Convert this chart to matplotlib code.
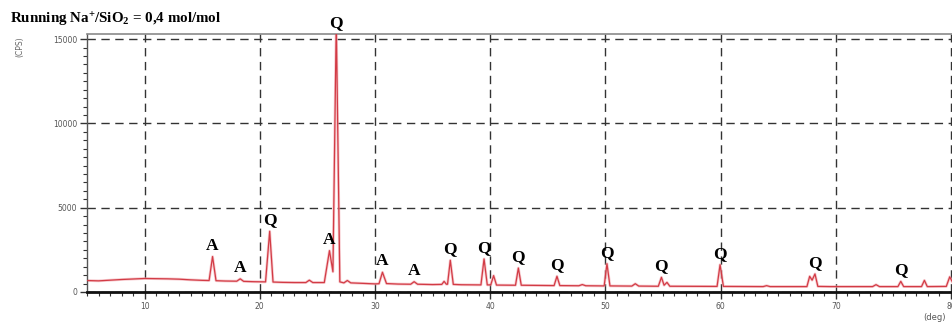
import matplotlib
matplotlib.use("Agg")
import matplotlib.pyplot as plt
from matplotlib.ticker import MultipleLocator

plt.rcParams["mathtext.fontset"] = "custom"
plt.rcParams["mathtext.rm"] = "Liberation Serif:bold"
plt.rcParams["mathtext.it"] = "Liberation Serif:bold"
plt.rcParams["mathtext.bf"] = "Liberation Serif:bold"

# Diffractogram vertices (2theta in deg, intensity in CPS)
two_theta = [5.0, 6.0, 7.0, 8.0, 9.0, 10.0, 11.0, 12.0, 13.0, 14.0, 15.0,
             15.6, 15.9, 16.2, 17.0, 18.0, 18.3, 18.6, 19.5, 20.5, 20.86, 21.15,
             22.0, 23.0, 24.0, 24.3, 24.6, 25.6, 26.05, 26.35, 26.64, 26.95,
             27.3, 27.6, 27.9, 29.0, 30.0, 30.35, 30.65, 31.0, 32.0, 33.1, 33.4,
             33.7, 35.0, 35.8, 36.0, 36.2, 36.3, 36.54, 36.8, 37.5, 39.2, 39.47,
             39.75, 40.05, 40.3, 40.55, 42.2, 42.45, 42.7, 45.55, 45.8, 46.05,
             47.7, 48.0, 48.3, 49.9, 50.14, 50.4, 52.3, 52.6, 52.9, 54.6, 54.87,
             55.1, 55.35, 55.6, 59.7, 59.96, 60.25, 63.7, 64.0, 64.3, 67.5, 67.74,
             67.95, 68.2, 68.45, 69.5, 73.2, 73.5, 73.8, 75.4, 75.65, 75.9, 77.45,
             77.7, 77.95, 79.6, 79.9, 80.2]
counts = [680, 660, 700, 740, 770, 800, 790, 780, 760, 720, 690,
          680, 2100, 670, 650, 640, 780, 630, 610, 600, 3600, 590,
          570, 560, 560, 700, 560, 560, 2450, 1200, 16000, 600,
          540, 680, 540, 510, 480, 490, 1170, 500, 470, 460, 610,
          460, 440, 450, 630, 460, 460, 1880, 450, 430, 420, 1960,
          420, 420, 970, 410, 400, 1420, 400, 380, 930, 380,
          370, 440, 370, 360, 1680, 360, 350, 490, 350, 340, 870,
          400, 570, 340, 330, 1620, 330, 320, 375, 320, 320, 930,
          700, 1070, 330, 320, 320, 435, 320, 320, 630, 320, 320,
          690, 320, 330, 900, 500]

# Phase labels (A = analcime, Q = quartz)
label_pos = [15.9, 18.3, 20.86, 26.05, 26.64, 30.65, 33.4, 36.54, 39.47,
             42.45, 45.8, 50.14, 54.87, 59.96, 68.2, 75.65]
label_phase = ["A", "A", "Q", "A", "Q", "A", "A", "Q", "Q",
               "Q", "Q", "Q", "Q", "Q", "Q", "Q"]

x_ticks = [10, 20, 30, 40, 50, 60, 70, 80]
y_ticks = [0, 5000, 10000, 15000]

XMIN, XMAX, YMAX = 5.0, 80.1, 15300

fig = plt.figure(figsize=(9.53, 3.24), dpi=100)
ax = fig.add_axes([0.0913, 0.0988, 0.9077, 0.7962])

ax.plot(two_theta, counts, color="#f2a5ad", lw=2.0, alpha=0.6, zorder=2)
ax.plot(two_theta, counts, color="#d23b45", lw=0.9, zorder=3)
ax.set_xlim(XMIN, XMAX)
ax.set_ylim(0, YMAX)

ax.set_xticks(x_ticks)
ax.set_yticks(y_ticks)
ax.xaxis.set_minor_locator(MultipleLocator(1))
ax.yaxis.set_minor_locator(MultipleLocator(500))
ax.tick_params(axis="both", which="major", length=5, width=1, color="#333333",
               labelsize=5.5, labelcolor="#555555", pad=2)
ax.tick_params(axis="both", which="minor", length=3, width=0.8, color="#333333")

ax.grid(True, which="major", color="#333333", lw=1.0, ls=(0, (6, 4)), zorder=1)

ax.spines["right"].set_visible(False)
ax.spines["top"].set_color("#8a8a8a")
ax.spines["top"].set_linewidth(1.2)
ax.spines["left"].set_color("#555555")
ax.spines["left"].set_linewidth(1.0)
ax.spines["bottom"].set_color("#111111")
ax.spines["bottom"].set_linewidth(2.0)

heights = dict(zip(two_theta, counts))
for pos, ph in zip(label_pos, label_phase):
    h = min(heights[pos], YMAX)
    ax.annotate(ph, xy=(pos, h), xytext=(0, 2), textcoords="offset points",
                ha="center", va="bottom", fontsize=12.5, fontweight="bold",
                family="Liberation Serif", annotation_clip=False, zorder=4)

fig.text(0.0105, 0.94, "Running Na$^{+}$/SiO$_{2}$ = 0,4 mol/mol",
         fontsize=10.8, fontweight="bold", family="Liberation Serif",
         ha="left", va="center")
fig.text(0.021, 0.855, "(CPS)", rotation=90, fontsize=5.5, color="#666666",
         ha="center", va="center")
fig.text(0.981, 0.02, "(deg)", fontsize=6, color="#555555", ha="center",
         va="center")

fig.savefig("out.png", dpi=100)
